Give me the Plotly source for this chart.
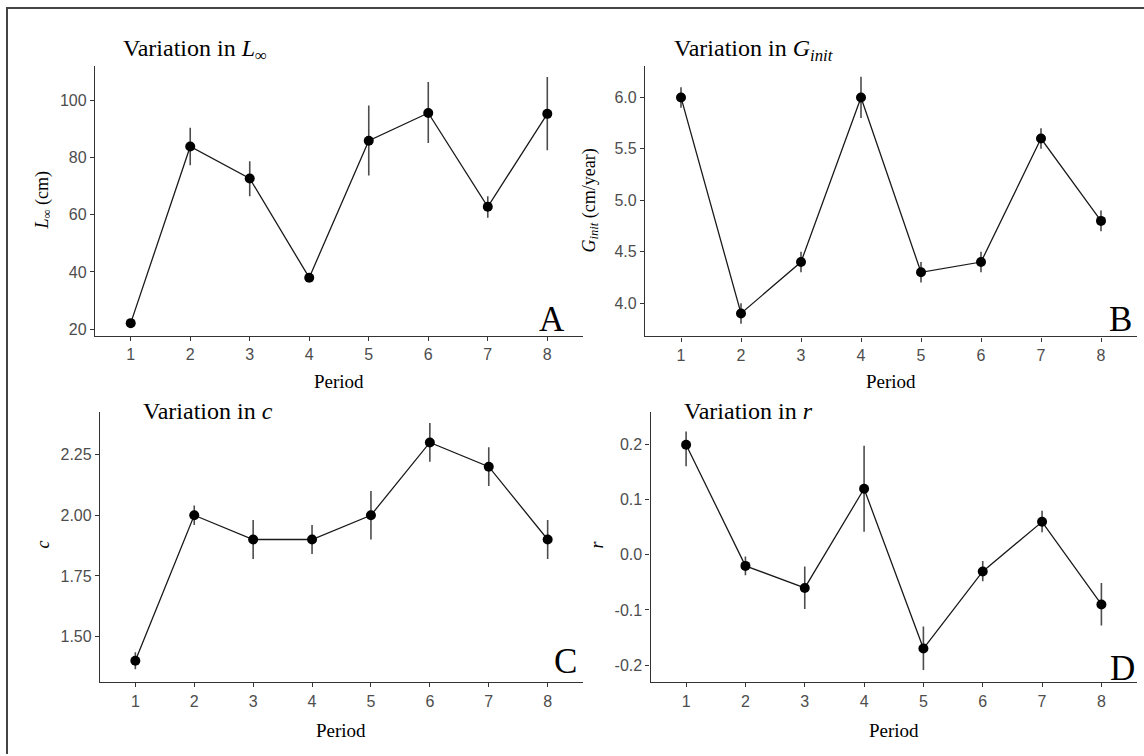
import plotly.graph_objects as go

W, H = 1144, 756

period = [1, 2, 3, 4, 5, 6, 7, 8]

# Panel A: L_inf (cm)
linf = [22.1, 83.9, 72.7, 38.0, 85.9, 95.6, 62.8, 95.3]
linf_up = [0.4, 6.5, 6.0, 1.5, 12.3, 10.8, 3.7, 12.9]
linf_lo = [0.4, 6.6, 6.2, 1.5, 12.2, 10.5, 3.8, 12.7]

# Panel B: G_init (cm/year)
ginit = [6.0, 3.9, 4.4, 6.0, 4.3, 4.4, 5.6, 4.8]
ginit_up = [0.1, 0.1, 0.1, 0.2, 0.1, 0.1, 0.1, 0.1]
ginit_lo = [0.1, 0.1, 0.1, 0.2, 0.1, 0.1, 0.1, 0.1]

# Panel C: c
cvals = [1.40, 2.00, 1.90, 1.90, 2.00, 2.30, 2.20, 1.90]
c_up = [0.035, 0.04, 0.08, 0.06, 0.10, 0.08, 0.08, 0.08]
c_lo = [0.035, 0.04, 0.08, 0.06, 0.10, 0.08, 0.08, 0.08]

# Panel D: r
rvals = [0.20, -0.02, -0.06, 0.12, -0.17, -0.03, 0.06, -0.09]
r_up = [0.024, 0.017, 0.039, 0.078, 0.040, 0.019, 0.020, 0.039]
r_lo = [0.039, 0.017, 0.038, 0.078, 0.039, 0.018, 0.019, 0.038]

xticks = ["1", "2", "3", "4", "5", "6", "7", "8"]
a_tickvals = [20, 40, 60, 80, 100]
a_ticktext = ["20", "40", "60", "80", "100"]
b_tickvals = [4.0, 4.5, 5.0, 5.5, 6.0]
b_ticktext = ["4.0", "4.5", "5.0", "5.5", "6.0"]
c_tickvals = [1.50, 1.75, 2.00, 2.25]
c_ticktext = ["1.50", "1.75", "2.00", "2.25"]
d_tickvals = [-0.2, -0.1, 0.0, 0.1, 0.2]
d_ticktext = ["-0.2", "-0.1", "0.0", "0.1", "0.2"]

SERIF = "Liberation Serif, Times New Roman, serif"
SANS = "Liberation Sans, Arial, sans-serif"

def px_x(x):
    return x / W

def px_y(y):
    return 1 - y / H

panels = [
    # values, up, lo, xdomain(px), ydomain(px top,bottom), yrange, tickvals, ticktext
    dict(v=linf, up=linf_up, lo=linf_lo, xd=(95, 583), yd=(65.7, 337),
         yr=[17.56, 112.2], tv=a_tickvals, tt=a_ticktext),
    dict(v=ginit, up=ginit_up, lo=ginit_lo, xd=(645, 1137), yd=(65.7, 337.3),
         yr=[3.677, 6.31], tv=b_tickvals, tt=b_ticktext),
    dict(v=cvals, up=c_up, lo=c_lo, xd=(100, 583), yd=(412.7, 684),
         yr=[1.312, 2.427], tv=c_tickvals, tt=c_ticktext),
    dict(v=rvals, up=r_up, lo=r_lo, xd=(650.5, 1137), yd=(412.7, 684),
         yr=[-0.231, 0.26], tv=d_tickvals, tt=d_ticktext),
]

fig = go.Figure()
layout = {}
for i, p in enumerate(panels):
    n = "" if i == 0 else str(i + 1)
    xa, ya = "x" + n, "y" + n
    fig.add_trace(go.Scatter(
        x=period, y=p["v"], xaxis=xa, yaxis=ya, mode="lines+markers",
        line=dict(color="#1a1a1a", width=1.3),
        marker=dict(color="black", size=10),
        error_y=dict(type="data", array=p["up"], arrayminus=p["lo"],
                     color="#4d4d4d", thickness=1.6, width=0),
        showlegend=False, cliponaxis=False,
    ))
    axis_common = dict(showgrid=False, zeroline=False, showline=True,
                       linecolor="#333333", linewidth=1.3, ticks="outside",
                       ticklen=4, tickwidth=1, tickcolor="#333333",
                       tickfont=dict(family=SANS, size=16, color="#4d4d4d"))
    layout["xaxis" + n] = dict(
        domain=[px_x(p["xd"][0]), px_x(p["xd"][1])], range=[0.4, 8.6],
        anchor=ya, tickvals=period, ticktext=xticks, **axis_common)
    layout["yaxis" + n] = dict(
        domain=[px_y(p["yd"][1]), px_y(p["yd"][0])], range=p["yr"],
        anchor=xa, tickvals=p["tv"], ticktext=p["tt"], **axis_common)

fig.update_layout(**layout)

ann = []
def add_text(text, x, y, size, xanchor="center", angle=0, color="black"):
    ann.append(dict(text=text, x=px_x(x), y=px_y(y), xref="paper", yref="paper",
                    xanchor=xanchor, yanchor="middle", showarrow=False,
                    textangle=angle, font=dict(family=SERIF, size=size, color=color)))

# panel titles
add_text("Variation in <i>L</i><sub>∞</sub>", 121, 50, 24, xanchor="left")
add_text("Variation in <i>G</i><sub><i>init</i></sub>", 672, 50, 24, xanchor="left")
add_text("Variation in <i>c</i>", 141, 412, 24, xanchor="left")
add_text("Variation in <i>r</i>", 682, 412, 24, xanchor="left")

# panel letters
add_text("A", 552, 320, 35)
add_text("B", 1120, 320, 35)
add_text("C", 565, 663, 35)
add_text("D", 1122, 670, 35)

# y-axis titles
add_text("<i>L</i><sub>∞</sub> (cm)", 43, 201, 18, angle=-90)
add_text("<i>G</i><sub><i>init</i></sub> (cm/year)", 590, 201, 18, angle=-90)
add_text("<i>c</i>", 43, 546, 18, angle=-90)
add_text("<i>r</i>", 597, 546, 18, angle=-90)

# x-axis titles
add_text("Period", 339, 383, 19)
add_text("Period", 891, 383, 19)
add_text("Period", 341.5, 732, 19)
add_text("Period", 894, 732, 19)

fig.update_layout(
    annotations=ann,
    width=W, height=H,
    margin=dict(l=0, r=0, t=0, b=0),
    paper_bgcolor="white", plot_bgcolor="white",
    shapes=[
        dict(type="line", xref="paper", yref="paper",
             x0=px_x(6), x1=1, y0=px_y(8), y1=px_y(8),
             line=dict(color="#444444", width=2)),
        dict(type="line", xref="paper", yref="paper",
             x0=px_x(7), x1=px_x(7), y0=px_y(7), y1=0,
             line=dict(color="#444444", width=2)),
    ],
)

fig.write_html("out.html")
